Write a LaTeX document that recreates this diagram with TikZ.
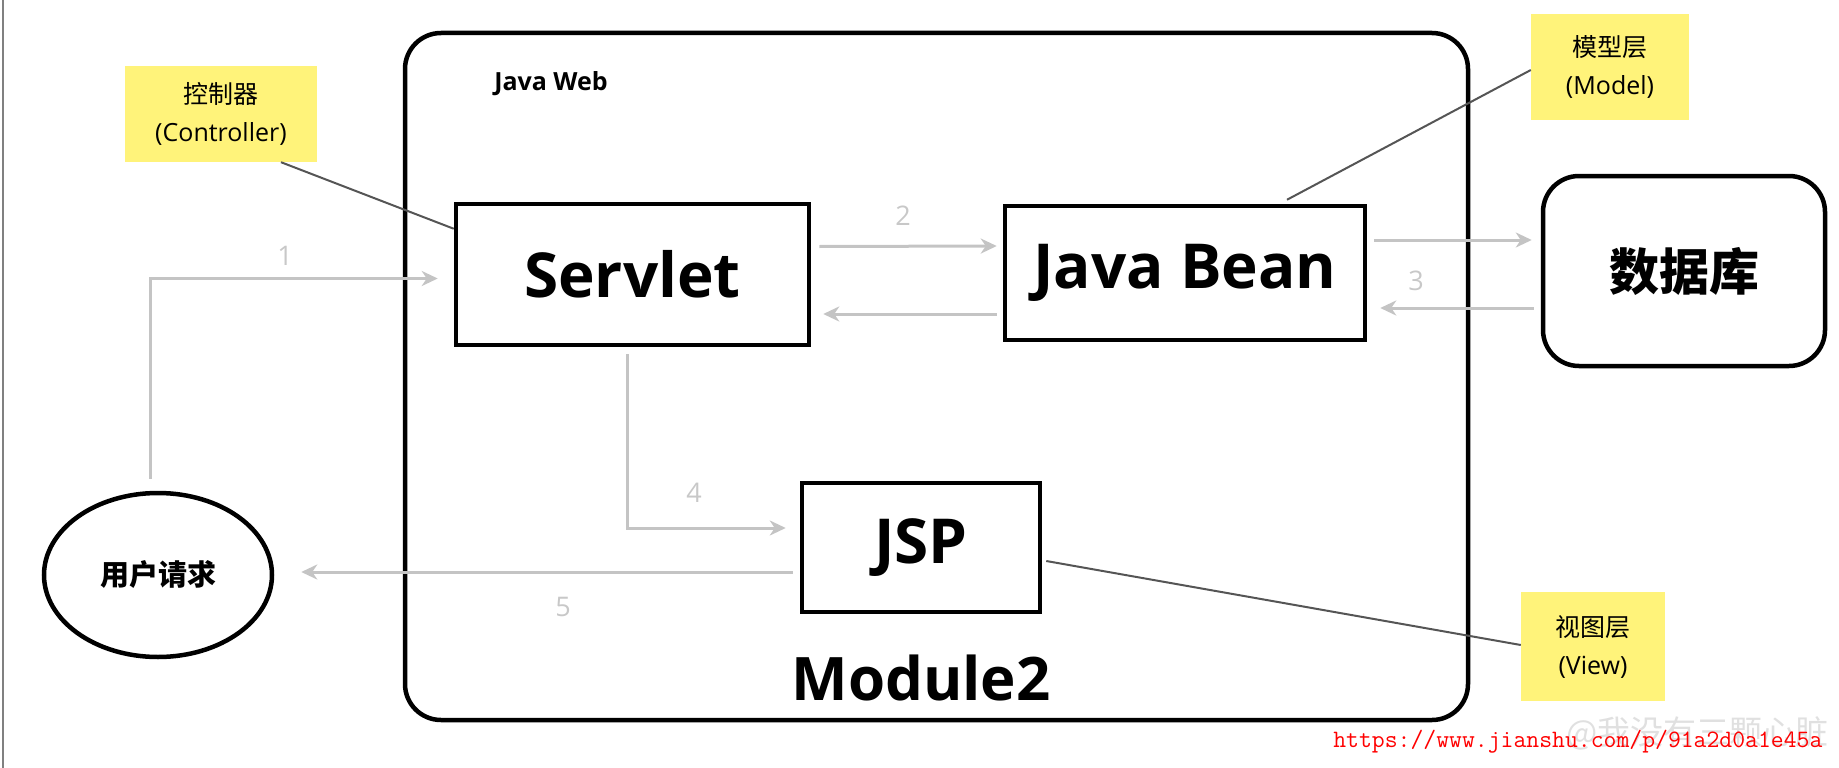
\documentclass[tikz,border=0pt]{standalone}
\usepackage{fontspec}
\setmainfont{Open Sans}
\newfontfamily\cjk{Noto Sans CJK SC}
\usetikzlibrary{arrows.meta,shapes.geometric}
\definecolor{notefill}{HTML}{FFF37A}
\definecolor{arrowgray}{HTML}{C4C4C4}
\definecolor{numgray}{HTML}{C8C8C8}
\definecolor{leadgray}{HTML}{555555}

\begin{document}
\begin{tikzpicture}[x=1pt,y=1pt,
        box/.style={draw,line width=4.5pt,inner sep=0pt,font=\fontsize{62}{70}\selectfont\bfseries},
        note/.style={fill=notefill,inner sep=0pt,align=center,font=\fontsize{25}{38}\selectfont},
        flow/.style={draw=arrowgray,line width=3pt,-{Stealth[length=16pt,width=15pt,inset=5pt]}},
        lead/.style={draw=leadgray,line width=2pt},
        num/.style={text=numgray,font=\fontsize{27}{30}\selectfont}]
        \useasboundingbox (0,0) rectangle (1839,-768);
        \draw[gray,line width=2pt] (3,0) -- (3,-768);

        % Java Web container
        \node[draw,line width=4.5pt,rounded corners=36pt,minimum width=1063pt,minimum height=687pt] (web) at (936.5,-376.5) {};
        \node[font=\fontsize{25}{30}\selectfont\bfseries] (webtitle) at (551,-84) {Java Web};
        \node[font=\fontsize{60}{70}\selectfont\bfseries] (module) at (921,-678) {Module2};

        % components
        \node[box,minimum width=353pt,minimum height=141pt] (servlet) at (632.5,-274.5) {Servlet};
        \node[box,minimum width=360pt,minimum height=134pt] (bean) at (1185,-273) {Java Bean};
        \node[box,minimum width=238pt,minimum height=129pt] (jsp) at (921,-547.5) {JSP};
        \node[box,rounded corners=36pt,minimum width=282pt,minimum height=190pt,font=\fontsize{50}{60}\selectfont\cjk\bfseries] (db) at (1684,-271) {数据库};
        \node[draw,ellipse,line width=4.5pt,minimum width=228pt,minimum height=164pt,font=\fontsize{29}{36}\selectfont\cjk\bfseries] (user) at (158,-575) {用户请求};

        % notes
        \node[note,minimum width=192pt,minimum height=96pt] (ctrl) at (221,-114) {{\cjk 控制器}\\(Controller)};
        \node[note,minimum width=158pt,minimum height=106pt] (model) at (1610,-67) {{\cjk 模型层}\\(Model)};
        \node[note,minimum width=144pt,minimum height=109pt] (view) at (1593,-646.5) {{\cjk 视图层}\\(View)};
        \draw[lead] ([xshift=60pt]ctrl.south) -- ([yshift=-27pt]servlet.north west);
        \draw[lead] ([yshift=-3pt]model.west) -- ([xshift=102pt,yshift=4pt]bean.north);
        \draw[lead] ([xshift=4pt,yshift=-13.5pt]jsp.east) -- ([yshift=1.5pt]view.west);

        % flows
        \draw[flow] ([xshift=-8pt,yshift=12pt]user.north) |- ([xshift=-16pt,yshift=-4pt]servlet.west);
        \draw[flow] ([xshift=8pt,yshift=28pt]servlet.east) -- ([xshift=-6pt,yshift=27pt]bean.west);
        \draw[flow] ([xshift=-6pt,yshift=-41pt]bean.west) -- ([xshift=12pt,yshift=-39.5pt]servlet.east);
        \draw[flow] ([xshift=7pt,yshift=33pt]bean.east) -- ([xshift=-9pt,yshift=31pt]db.west);
        \draw[flow] ([xshift=-7pt,yshift=-37pt]db.west) -- ([xshift=13pt,yshift=-35pt]bean.east);
        \draw[flow] ([xshift=-5pt,yshift=-7pt]servlet.south) |- ([xshift=-14pt,yshift=19.5pt]jsp.west);
        \draw[flow] ([xshift=-7pt,yshift=-24.5pt]jsp.west) -- ([xshift=27pt,yshift=3pt]user.east);
        \node[num] (n1) at (285,-256) {1};
        \node[num] (n2) at (903,-216) {2};
        \node[num] (n3) at (1416,-281) {3};
        \node[num] (n4) at (694,-493) {4};
        \node[num] (n5) at (563,-607) {5};

        % watermark
        \node[anchor=east,text=black!12,font=\fontsize{33}{36}\selectfont\cjk] (mark) at (1832,-733) {@我没有三颗心脏};
        \node[anchor=east,text=red,font=\fontsize{25}{28}\selectfont\ttfamily] (url) at (1826,-742) {https://www.jianshu.com/p/91a2d0a1e45a};
\end{tikzpicture}
\end{document}
